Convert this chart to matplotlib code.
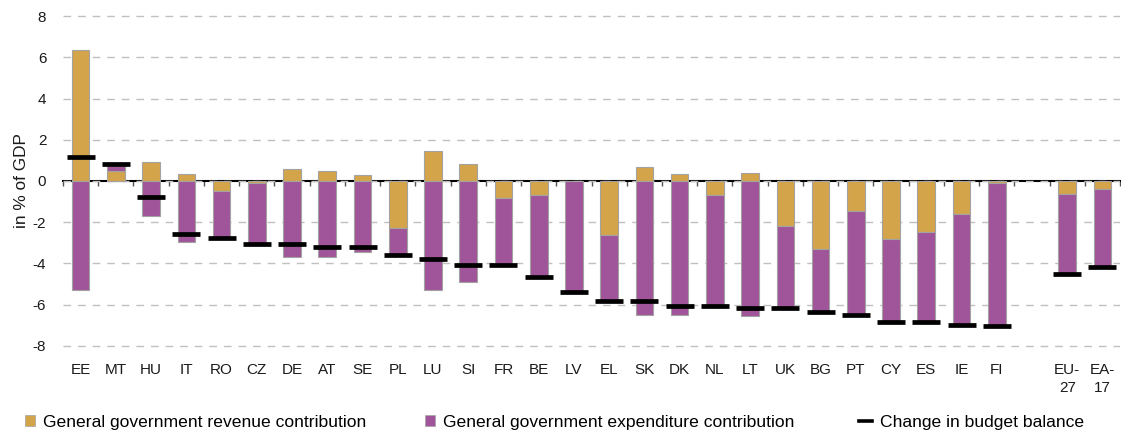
import numpy as np
import matplotlib
matplotlib.use("Agg")
import matplotlib.pyplot as plt
from matplotlib.patches import Patch
from matplotlib.lines import Line2D

plt.rcParams['font.family'] = ['Liberation Sans', 'DejaVu Sans']
plt.rcParams['axes.unicode_minus'] = False

countries = ["EE", "MT", "HU", "IT", "RO", "CZ", "DE", "AT", "SE", "PL", "LU", "SI", "FR", "BE",
             "LV", "EL", "SK", "DK", "NL", "LT", "UK", "BG", "PT", "CY", "ES", "IE", "FI"]
aggregates = ["EU-\n27", "EA-\n17"]

# revenue contribution, % of GDP
revenue = [6.37, 0.50, 0.90, 0.35, -0.50, -0.10, 0.60, 0.47, 0.30, -2.28, 1.47, 0.81, -0.83, -0.70,
           0.00, -2.60, 0.68, 0.35, -0.70, 0.37, -2.17, -3.30, -1.44, -2.80, -2.45, -1.62, -0.10,
           -0.62, -0.37]
# expenditure contribution, % of GDP
expenditure = [-5.28, 0.21, -1.68, -2.98, -2.27, -2.96, -3.70, -3.70, -3.46, -1.30, -5.28, -4.89,
               -3.25, -3.98, -5.37, -3.20, -6.52, -6.52, -5.35, -6.57, -4.01, -3.06, -5.05, -4.06,
               -4.41, -5.37, -6.94, -3.88, -3.82]
# change in budget balance, % of GDP
balance = [1.15, 0.84, -0.78, -2.57, -2.77, -3.06, -3.06, -3.20, -3.20, -3.58, -3.77, -4.08,
           -4.08, -4.68, -5.37, -5.80, -5.80, -6.05, -6.05, -6.18, -6.18, -6.36, -6.49, -6.86,
           -6.86, -6.99, -7.04, -4.50, -4.19]

labels = countries + aggregates
# one empty slot between FI and the aggregates
x = np.r_[np.arange(len(countries)), len(countries) + 1 + np.arange(len(aggregates))]

rev = np.array(revenue)
exp = np.array(expenditure)
bottom_exp = np.where(exp >= 0, np.maximum(rev, 0), np.minimum(rev, 0))

col_rev = "#D4A44B"
col_exp = "#A05499"
edge = "#a3a3a3"

fig = plt.figure(figsize=(11.21, 4.34), dpi=100)
ax = fig.add_axes([0.0562, 0.1982, 0.943, 0.7695])

ax.bar(x, rev, width=0.5, color=col_rev, edgecolor=edge, linewidth=0.8, zorder=2)
ax.bar(x, exp, width=0.5, bottom=bottom_exp, color=col_exp, edgecolor=edge, linewidth=0.8, zorder=2)
ax.plot(x, balance, linestyle="none", marker="_", markersize=19.5, markeredgewidth=3.4,
        color="black", zorder=4)

ax.set_xlim(-0.5, x[-1] + 0.5)
ax.set_ylim(-8.1, 8.1)
ax.set_yticks(np.arange(-8, 9, 2))
ax.set_xticks(x)
ax.set_xticklabels(labels, linespacing=1.3)
ax.tick_params(axis="x", length=0, pad=11, labelsize=11, colors="#1a1a1a")
ax.tick_params(axis="y", length=0, pad=12, labelsize=11, colors="#1a1a1a")
for s in ax.spines.values():
    s.set_visible(False)

ax.yaxis.grid(True, color="#c0c0c0", linewidth=1.0, linestyle=(0, (5.5, 5)), zorder=0)
ax.set_ylabel("in % of GDP", fontsize=12.4, labelpad=3, color="#1a1a1a")

# zero line with small ticks between categories
sec = ax.secondary_xaxis(0.5)
sec.set_alignment("bottom")
sec.set_xticks(np.arange(-0.5, x[-1] + 1, 1.0))
sec.set_xticklabels([])
sec.tick_params(axis="x", direction="out", length=3.8, width=1.0, color="#555555")
sec.spines["bottom"].set_linewidth(1.5)
sec.spines["bottom"].set_color("black")

leg_kw = dict(loc="center left", frameon=False, fontsize=12.6, borderpad=0, borderaxespad=0,
              handletextpad=0.45)
fig.legend(handles=[Patch(facecolor=col_rev, edgecolor=edge, linewidth=0.5)],
           labels=["General government revenue contribution"],
           bbox_to_anchor=(25 / 1121, 12 / 434), handlelength=0.57, handleheight=0.57, **leg_kw)
fig.legend(handles=[Patch(facecolor=col_exp, edgecolor=edge, linewidth=0.5)],
           labels=["General government expenditure contribution"],
           bbox_to_anchor=(425 / 1121, 12 / 434), handlelength=0.57, handleheight=0.57, **leg_kw)
fig.legend(handles=[Line2D([], [], color="black", linewidth=2.6)],
           labels=["Change in budget balance"],
           bbox_to_anchor=(859 / 1121, 12 / 434), handlelength=0.75, **leg_kw)

fig.savefig("out.png", dpi=100)
